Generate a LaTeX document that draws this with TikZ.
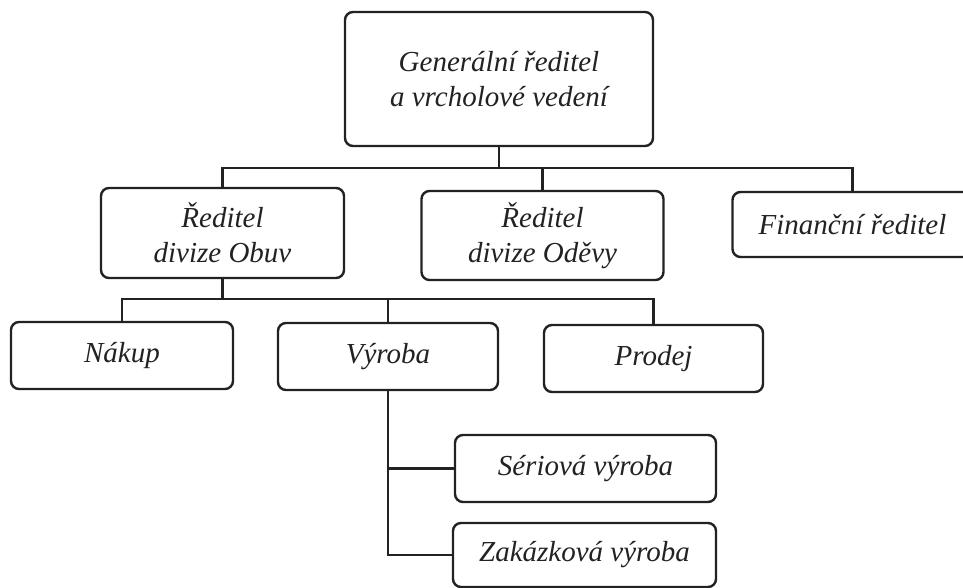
\documentclass[tikz,border=0pt]{standalone}
\usepackage{fontspec}
\setmainfont{Liberation Serif}
\begin{document}
\begin{tikzpicture}[x=1pt,y=-1pt,
  box/.style={draw=ink, line width=2.4pt, rounded corners=8pt, inner sep=0pt,
    align=center, text=ink, font=\fontsize{29}{35}\selectfont\itshape},
  link/.style={draw=ink, line width=2.1pt}]
\definecolor{ink}{HTML}{222222}
\useasboundingbox[fill=white] (0,0) rectangle (963,588);
% boxes
\node[box, minimum width=308pt, minimum height=134pt] (gen) at (499,79) {Generální ředitel\\a vrcholové vedení};
\node[box, minimum width=243pt, minimum height=90pt] (obuv) at (222.5,233) {Ředitel\\divize Obuv};
\node[box, minimum width=242pt, minimum height=89pt] (odevy) at (542.5,235.5) {Ředitel\\divize Oděvy};
\node[box, minimum width=240pt, minimum height=65pt] (fin) at (852.5,224.5) {Finanční ředitel};
\node[box, minimum width=222pt, minimum height=67pt] (nakup) at (122,355.5) {Nákup};
\node[box, minimum width=220pt, minimum height=67pt] (vyroba) at (388,356.5) {Výroba};
\node[box, minimum width=219pt, minimum height=67pt] (prodej) at (653.5,358.5) {Prodej};
\node[box, minimum width=261pt, minimum height=67pt] (seri) at (585.5,468.5) {Sériová výroba};
\node[box, minimum width=263pt, minimum height=64pt] (zak) at (584.5,555) {Zakázková výroba};
% bus points
\coordinate (bus1) at (499,168);
\coordinate (bus2) at (222.5,299);
% connectors
\draw[link] (gen) -- (bus1);
\draw[link] (bus1) -| (obuv);
\draw[link] (bus1) -| (odevy);
\draw[link] (bus1) -| (fin);
\draw[link] (obuv) -- (bus2);
\draw[link] (bus2) -| (nakup);
\draw[link] (bus2) -| (vyroba);
\draw[link] (bus2) -| (prodej);
\draw[link] (vyroba) |- (seri);
\draw[link] (vyroba) |- (zak);
\end{tikzpicture}
\end{document}
